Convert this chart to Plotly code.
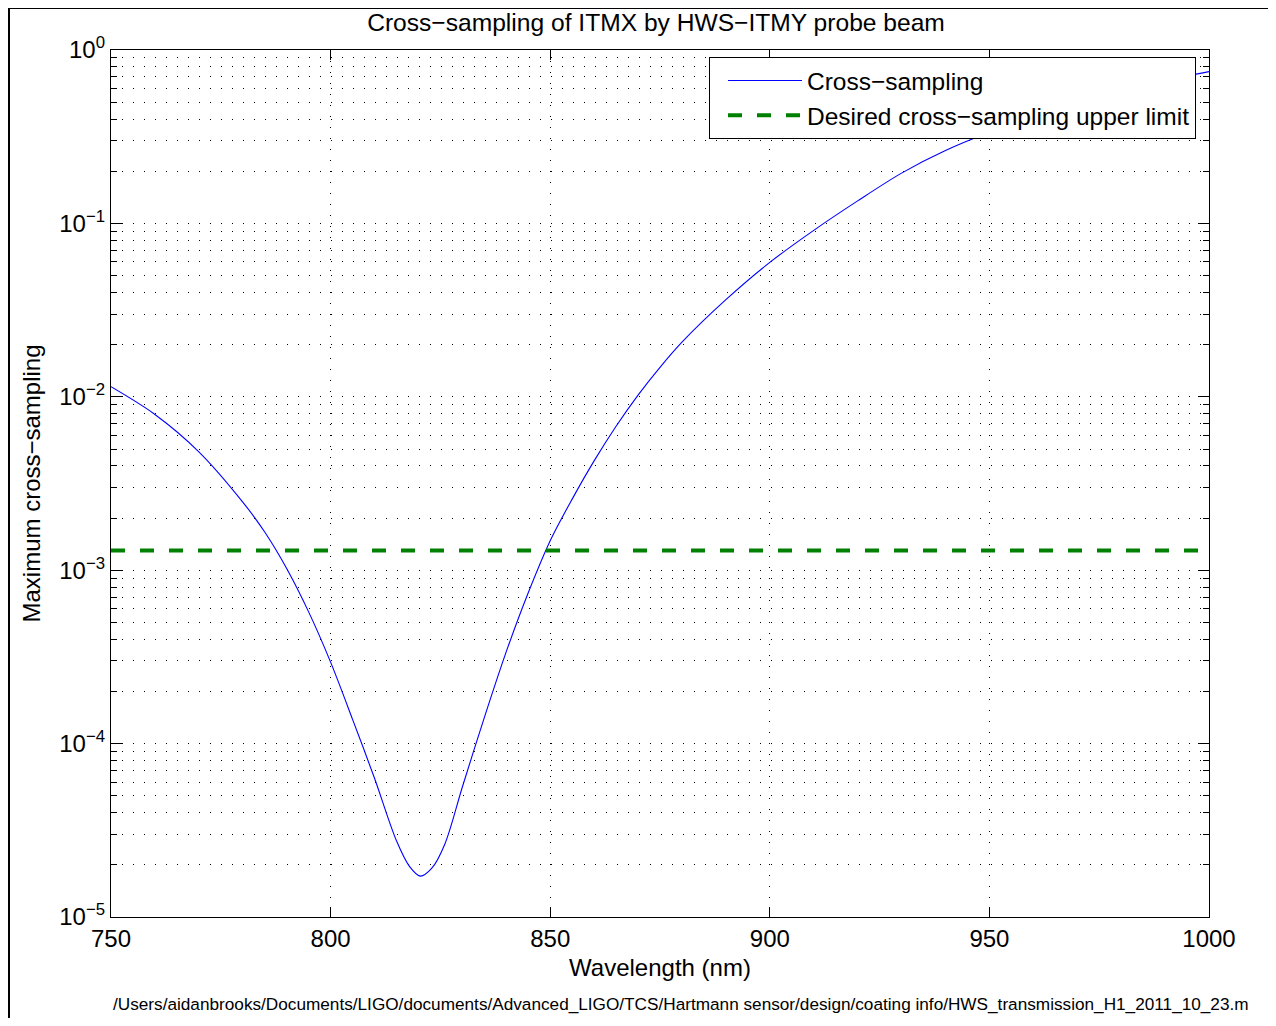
import plotly.graph_objects as go

# Data
wavelength_nm = [750, 760, 770, 780, 785, 790, 795, 800, 805, 810, 815, 818, 820.4,
                 823, 826, 830, 835, 840, 845, 850, 855, 860, 865, 870, 875, 880,
                 890, 900, 910, 920, 930, 940, 950, 960, 970, 980, 990, 1000]
cross_sampling = [1.143e-2, 7.91e-3, 4.819e-3, 2.472e-3, 1.66e-3, 1.023e-3, 5.75e-4, 2.95e-4,
                  1.38e-4, 6.31e-5, 2.75e-5, 1.95e-5, 1.72e-5,
                  1.905e-5, 2.63e-5, 5.62e-5, 1.413e-4, 3.39e-4, 7.41e-4, 1.479e-3, 2.57e-3,
                  4.27e-3, 6.76e-3, 1.023e-2, 1.479e-2, 2.065e-2,
                  3.63e-2, 5.96e-2, 9.12e-2, 0.1349, 0.195, 0.263, 0.335, 0.412, 0.495,
                  0.582, 0.668, 0.750]
limit_x = [750, 1000]
limit_value = 1.3e-3

x_ticks = [750, 800, 850, 900, 950, 1000]
y_ticks = [1e-5, 1e-4, 1e-3, 1e-2, 1e-1, 1e0]
y_ticktext = ["10<sup>\u22125</sup>", "10<sup>\u22124</sup>", "10<sup>\u22123</sup>",
              "10<sup>\u22122</sup>", "10<sup>\u22121</sup>", "10<sup>0</sup>"]
y_minor = [k * 10.0 ** d for d in range(-5, 0) for k in range(2, 10)]

title_text = "Cross\u2212sampling of ITMX by HWS\u2212ITMY probe beam"
x_title = "Wavelength (nm)"
y_title = "Maximum cross\u2212sampling"
footer = ("/Users/aidanbrooks/Documents/LIGO/documents/Advanced_LIGO/TCS/Hartmann sensor/"
          "design/coating info/HWS_transmission_H1_2011_10_23.m")

FONT = "Liberation Sans, Arial, Helvetica, sans-serif"
OFF = 8                      # page body margin
W, H = 1276 - 2 * OFF, 1026 - 2 * OFF
L, R, T, B = 111, 1209, 50, 917   # plot area in screen pixels


def px(xp):
    return (xp - L) / (R - L)


def py(yp):
    return (B - yp) / (B - T)


fig = go.Figure()
fig.add_trace(go.Scatter(
    x=wavelength_nm, y=cross_sampling, mode="lines", name="Cross\u2212sampling",
    line=dict(color="#0000ff", width=1.1, shape="spline", smoothing=0.9)))
fig.add_trace(go.Scatter(
    x=limit_x, y=[limit_value, limit_value], mode="lines",
    name="Desired cross\u2212sampling upper limit",
    line=dict(color="#008000", width=4, dash="14px,15px")))

grid = dict(showgrid=True, gridcolor="#000000", gridwidth=1, griddash="1px,10px")

fig.update_layout(
    width=W, height=H,
    margin=dict(l=L - OFF, r=W - (R - OFF), t=T - OFF, b=H - (B - OFF), pad=0),
    paper_bgcolor="white", plot_bgcolor="white",
    font=dict(family=FONT, size=24, color="black"),
    showlegend=True,
    title=dict(text=title_text, x=(656 - OFF) / W, xref="container", xanchor="center",
               y=1 - (22 - OFF) / H, yref="container", yanchor="middle",
               font=dict(family=FONT, size=24.6, color="black")),
    legend=dict(x=px(1196), y=py(57), xanchor="right", yanchor="top",
                bgcolor="white", bordercolor="black", borderwidth=1,
                font=dict(family=FONT, size=24.5, color="black"),
                itemwidth=74, indentation=13, tracegroupgap=0),
    xaxis=dict(type="linear", range=[750, 1000], tickmode="array", tickvals=x_ticks,
               ticks="inside", ticklen=10, tickwidth=1, tickcolor="black",
               showline=True, linecolor="black", linewidth=1.3, mirror="ticks",
               zeroline=False, tickfont=dict(size=24),
               title=dict(text=x_title, standoff=8, font=dict(size=24)),
               **grid),
    yaxis=dict(type="log", range=[-5, 0], tickmode="array", tickvals=y_ticks,
               ticktext=y_ticktext,
               ticks="inside", ticklen=11, tickwidth=1, tickcolor="black",
               showline=True, linecolor="black", linewidth=1.3, mirror="ticks",
               zeroline=False, tickfont=dict(size=24),
               title=dict(text=y_title, standoff=11, font=dict(size=24)),
               minor=dict(tickmode="array", tickvals=y_minor, ticks="inside", ticklen=6,
                          tickwidth=1, tickcolor="black", showgrid=True,
                          gridcolor="#000000", gridwidth=1, griddash="1px,10px"),
               **grid),
)

# figure frame (top and left edges)
fig.add_shape(type="line", xref="paper", yref="paper", x0=px(8.5), x1=px(1290),
              y0=py(8), y1=py(8), line=dict(color="black", width=2), layer="above")
fig.add_shape(type="line", xref="paper", yref="paper", x0=px(9), x1=px(9),
              y0=py(8), y1=py(1040), line=dict(color="black", width=2), layer="above")

fig.add_annotation(text=footer, xref="paper", yref="paper", x=px(111), y=py(1004),
                   xanchor="left", yanchor="middle", showarrow=False,
                   font=dict(family=FONT, size=17.2, color="black"))

fig.write_html("out.html")
